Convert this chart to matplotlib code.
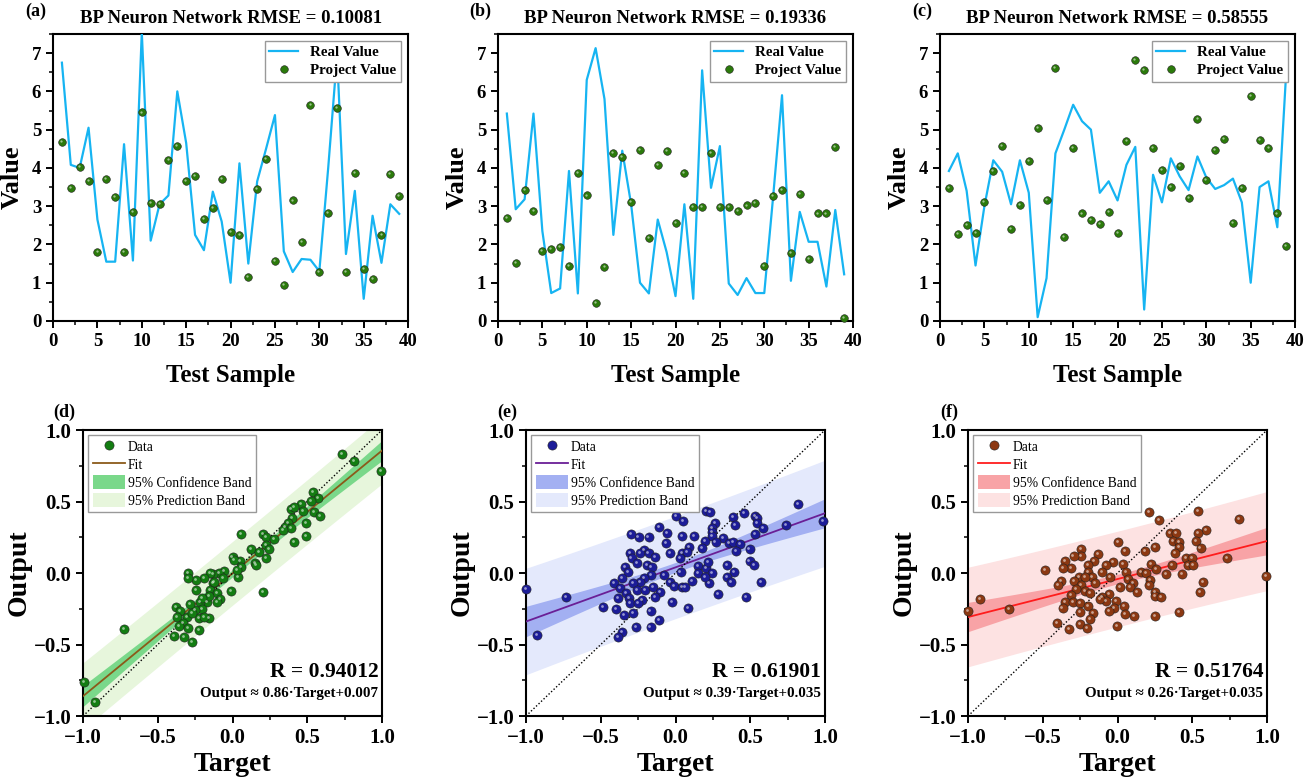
import numpy as np
import matplotlib
matplotlib.use('Agg')
import matplotlib.pyplot as plt
from matplotlib.lines import Line2D
from matplotlib.patches import Patch
from matplotlib.ticker import MultipleLocator
import matplotlib.transforms as mtrans

plt.rcParams['font.family'] = ['Liberation Serif', 'DejaVu Serif']
plt.rcParams['axes.unicode_minus'] = True

# ---- top row: real vs projected values ----
samples = list(range(1, 40))

real_a = [6.75, 4.08, 4.0, 5.05, 2.65, 1.55, 1.55, 4.62, 1.58, 7.55,
          2.1, 3.05, 3.28, 6.0, 4.65, 2.25, 1.85, 3.38, 2.6, 1.0,
          4.12, 1.5, 3.65, 4.5, 5.38, 1.82, 1.28, 1.62, 1.6, 1.3,
          4.0, 6.95, 1.75, 3.4, 0.58, 2.75, 1.52, 3.05, 2.8]
proj_a = [4.68, 3.48, 4.02, 3.65, 1.8, 3.72, 3.25, 1.81, 2.85, 5.45,
          3.08, 3.05, 4.2, 4.58, 3.65, 3.8, 2.67, 2.95, 3.7, 2.33,
          2.26, 1.15, 3.46, 4.23, 1.58, 0.95, 3.15, 2.06, 5.65, 1.27,
          2.82, 5.57, 1.28, 3.86, 1.37, 1.1, 2.24, 3.85, 3.26]

real_b = [5.42, 2.92, 3.18, 5.42, 2.35, 0.73, 0.85, 3.92, 0.72, 6.3,
          7.13, 5.8, 2.25, 4.45, 3.05, 1.0, 0.72, 2.65, 1.8, 0.65,
          3.05, 0.58, 6.55, 3.48, 4.57, 0.98, 0.68, 1.12, 0.73, 0.73,
          3.25, 5.9, 1.05, 2.85, 2.07, 2.07, 0.9, 2.9, 1.22]
proj_b = [2.69, 1.52, 3.43, 2.87, 1.82, 1.89, 1.93, 1.45, 3.86, 3.28,
          0.47, 1.42, 4.4, 4.29, 3.12, 4.47, 2.16, 4.07, 4.44, 2.56,
          3.88, 2.99, 2.99, 4.4, 2.97, 2.97, 2.88, 3.02, 3.08, 1.44,
          3.27, 3.42, 1.77, 3.33, 1.61, 2.81, 2.81, 4.55, 0.08]

real_c = [3.92, 4.38, 3.4, 1.45, 3.0, 4.2, 3.9, 3.05, 4.2, 3.35,
          0.1, 1.12, 4.38, 5.0, 5.65, 5.22, 5.0, 3.35, 3.65, 3.15,
          4.08, 4.55, 0.3, 3.82, 3.1, 4.25, 3.78, 3.42, 4.3, 3.75,
          3.45, 3.55, 3.72, 3.1, 1.0, 3.5, 3.65, 2.45, 6.5]
proj_c = [3.48, 2.28, 2.52, 2.31, 3.12, 3.91, 4.58, 2.4, 3.04, 4.19,
          5.05, 3.17, 6.62, 2.2, 4.52, 2.81, 2.63, 2.53, 2.85, 2.31,
          4.7, 6.82, 6.55, 4.52, 3.95, 3.51, 4.04, 3.21, 5.29, 3.68,
          4.48, 4.76, 2.56, 3.47, 5.87, 4.73, 4.52, 2.81, 1.97]

rmse_labels = ['0.10081', '0.19336', '0.58555']

# ---- bottom row: regression scatter ----
tgt_d = [0.732, 0.815, 0.995, 0.536, 0.572, 0.525, 0.46, 0.391, 0.414, 0.469,
         0.547, 0.587, 0.398, 0.369, 0.494, 0.353, 0.391, 0.494, 0.409, 0.057,
         0.202, 0.224, 0.28, 0.224, 0.246, 0.124, 0.175, 0.226, 0.152, 0.157,
         0.0, 0.052, 0.057, 0.034, 0.03, -0.01, 0.202, -0.055, -0.088, -0.133,
         -0.066, -0.133, -0.148, -0.193, -0.245, -0.30, -0.30, -0.245, -0.148, -0.104,
         -0.081, -0.104, -0.17, -0.215, -0.155, -0.204, -0.249, -0.282, -0.378, -0.349,
         -0.371, -0.304, -0.226, -0.159, -0.331, -0.36, -0.30, -0.222, -0.391, -0.324,
         -0.268, -0.728, -0.996, -0.92, -0.204, -0.27, -0.193, -0.126, 0.008, 0.34]
out_d = [0.83, 0.785, 0.713, 0.564, 0.522, 0.503, 0.485, 0.445, 0.46, 0.436,
         0.429, 0.40, 0.382, 0.347, 0.347, 0.319, 0.312, 0.261, 0.219, 0.273,
         0.273, 0.254, 0.238, 0.196, 0.165, 0.165, 0.145, 0.103, 0.072, 0.056,
         0.11, 0.082, 0.04, -0.026, 0.021, -0.124, -0.13, 0.014, -0.002, -0.007,
         -0.037, -0.068, 0.002, -0.037, -0.049, 0.002, -0.037, -0.119, -0.119, -0.142,
         -0.184, -0.2, -0.205, -0.2, -0.161, -0.254, -0.259, -0.217, -0.235, -0.266,
         -0.31, -0.31, -0.312, -0.312, -0.352, -0.371, -0.382, -0.399, -0.44, -0.45,
         -0.485, -0.389, -0.76, -0.904, -0.177, -0.28, -0.305, -0.065, 0.091, 0.30]

tgt_e = [-1.0, -0.732, -0.924, 0.82, 0.742, 0.989, 0.202, 0.231, 0.458, 0.532,
         0.547, 0.387, 0.265, 0.398, 0.547, 0.583, 0.247, 0.242, 0.532, 0.32,
         0.242, 0.124, 0.041, 0.001, 0.052, -0.108, -0.055, -0.18, -0.247, -0.298,
         0.197, 0.268, 0.357, 0.387, 0.43, 0.408, 0.495, 0.18, 0.093, -0.066,
         -0.036, 0.041, 0.075, 0.03, -0.21, -0.304, -0.237, -0.18, -0.137, -0.294,
         -0.26, -0.338, -0.316, -0.189, -0.16, -0.164, -0.21, -0.237, -0.282, -0.36,
         -0.411, -0.371, -0.333, -0.382, -0.309, -0.26, -0.204, -0.148, -0.104, -0.137,
         -0.225, -0.304, -0.249, -0.282, -0.344, -0.486, -0.4, -0.167, -0.264, -0.167,
         -0.36, -0.382, -0.108, -0.025, 0.081, -0.077, -0.036, -0.008, 0.034, 0.045,
         0.063, 0.108, 0.148, 0.152, 0.202, 0.22, 0.242, 0.226, 0.282, 0.197,
         0.347, 0.392, 0.347, 0.372, 0.495, 0.527, 0.571, 0.47]
out_e = [-0.11, -0.165, -0.431, 0.483, 0.338, 0.366, 0.436, 0.424, 0.422, 0.40,
         0.387, 0.394, 0.352, 0.336, 0.352, 0.317, 0.317, 0.289, 0.273, 0.247,
         0.261, 0.261, 0.261, 0.399, 0.366, 0.319, 0.277, 0.254, 0.254, 0.273,
         0.226, 0.214, 0.207, 0.214, 0.203, 0.156, 0.165, 0.172, 0.184, 0.207,
         0.138, 0.142, 0.149, 0.103, 0.161, 0.142, 0.138, 0.138, 0.11, 0.103,
         0.068, 0.04, 0.009, 0.056, 0.044, -0.014, -0.037, -0.061, -0.072, -0.037,
         -0.068, -0.107, -0.138, -0.177, -0.177, -0.119, -0.119, -0.096, -0.131, -0.166,
         -0.189, -0.212, -0.212, -0.277, -0.296, -0.24, -0.254, -0.263, -0.375, -0.38,
         -0.41, -0.45, -0.329, -0.205, -0.242, -0.014, -0.061, -0.091, 0.009, -0.1,
         -0.096, -0.056, 0.049, 0.002, 0.033, 0.075, -0.002, -0.072, -0.147, -0.026,
         0.056, 0.009, -0.026, -0.061, 0.086, 0.056, -0.065, -0.17]

tgt_f = [-1.0, -0.917, -0.726, -0.483, 0.211, 0.278, 0.539, 0.813, 0.996, 0.735,
         0.59, 0.539, 0.528, 0.555, 0.35, 0.394, 0.372, 0.409, 0.411, 0.387,
         0.46, 0.498, 0.471, 0.505, 0.367, 0.434, 0.572, 0.55, 0.411, 0.249,
         0.182, 0.226, 0.26, 0.322, 0.16, 0.193, 0.22, 0.208, 0.249, 0.249,
         0.289, 0.249, 0.003, 0.048, 0.037, 0.059, 0.07, 0.104, 0.086, 0.131,
         0.108, 0.019, 0.041, -0.003, -0.012, -0.023, -0.059, -0.048, -0.03, -0.075,
         -0.104, -0.057, -0.101, -0.075, -0.115, -0.13, -0.159, -0.197, -0.197, -0.17,
         -0.152, -0.242, -0.247, -0.294, -0.353, -0.312, -0.364, -0.375, -0.398, -0.258,
         -0.291, -0.22, -0.242, -0.276, -0.22, -0.186, -0.31, -0.353, -0.298, -0.249,
         -0.197, -0.368, -0.253, -0.164, -0.186, -0.253, -0.402, -0.324, -0.204, 0.048]
out_f = [-0.263, -0.184, -0.252, 0.021, 0.429, 0.371, 0.434, 0.375, -0.021, 0.103,
         0.301, 0.282, 0.226, 0.177, 0.277, 0.277, 0.226, 0.219, 0.184, 0.138,
         0.103, 0.103, 0.056, 0.056, 0.056, -0.009, -0.065, -0.135, -0.275, 0.184,
         0.154, 0.061, 0.028, -0.009, 0.009, 0.002, -0.049, -0.084, -0.131, -0.159,
         -0.17, -0.298, 0.219, 0.156, 0.061, 0.009, -0.044, -0.068, -0.1, -0.135,
         -0.298, -0.1, -0.231, -0.371, -0.193, -0.247, -0.266, -0.026, 0.079, 0.056,
         0.009, -0.147, -0.166, -0.193, -0.182, 0.133, 0.086, 0.056, 0.009, -0.026,
         -0.068, 0.165, 0.121, 0.119, 0.086, 0.033, 0.033, -0.054, -0.084, -0.026,
         -0.054, -0.03, -0.084, -0.114, -0.126, -0.138, -0.154, -0.2, -0.2, -0.207,
         -0.231, -0.247, -0.27, -0.277, -0.324, -0.357, -0.352, -0.392, -0.387, -0.287]

r_labels = ['0.94012', '0.61901', '0.51764']
eq_labels = ['0.86\u00b7Target+0.007', '0.39\u00b7Target+0.035', '0.26\u00b7Target+0.035']

T_VAL = 1.98

fig = plt.figure(figsize=(13.16, 7.81), dpi=100)

top_lefts = [0.0403, 0.3784, 0.7143]
bot_lefts = [0.0631, 0.3997, 0.7356]
top_letters = ['(a)', '(b)', '(c)']
bot_letters = ['(d)', '(e)', '(f)']

line_col = '#16b4f2'
pt_col = '#2b7a0b'


def sphere(ax, x, y, color, size, zorder=4):
    # shaded ball look: dark ring, body, small highlight
    ax.plot(x, y, 'o', ls='none', ms=size, mfc=color, mec='#202020', mew=0.4,
            zorder=zorder, clip_on=False)
    off = mtrans.offset_copy(ax.transData, fig=fig, x=-size * 0.12, y=size * 0.12, units='points')
    ax.plot(x, y, 'o', ls='none', ms=size * 0.3, mfc='white', mec='none', alpha=0.55,
            transform=off, zorder=zorder + 0.1, clip_on=False)


def style_axes(ax, labsize):
    for s in ax.spines.values():
        s.set_linewidth(1.5)
    ax.tick_params(which='major', direction='out', length=5, width=1.4, labelsize=labsize,
                   top=False, right=False)
    ax.tick_params(which='minor', direction='out', length=3, width=1.1, top=False, right=False)
    for t in ax.get_xticklabels() + ax.get_yticklabels():
        t.set_fontweight('bold')


top_sets = [(real_a, proj_a), (real_b, proj_b), (real_c, proj_c)]
for i, (real, proj) in enumerate(top_sets):
    ax = fig.add_axes([top_lefts[i], 0.589, 0.2698, 0.3675])
    ax.plot(samples, real, color=line_col, lw=1.6, zorder=3)
    sphere(ax, samples, proj, pt_col, 5.5)
    ax.set_xlim(0, 40)
    ax.set_ylim(0, 7.5)
    ax.xaxis.set_major_locator(MultipleLocator(5))
    ax.xaxis.set_minor_locator(MultipleLocator(2.5))
    ax.yaxis.set_major_locator(MultipleLocator(1))
    ax.yaxis.set_minor_locator(MultipleLocator(0.5))
    style_axes(ax, 13.5)
    ax.set_xlabel('Test Sample', fontsize=18, fontweight='bold', labelpad=10)
    ax.set_ylabel('Value', fontsize=19, fontweight='bold', labelpad=6)
    ax.set_title('BP Neuron Network RMSE = ' + rmse_labels[i], fontsize=13.5,
                 fontweight='bold', pad=8)
    ax.text(-0.05, 1.05, top_letters[i], transform=ax.transAxes, fontsize=13,
            fontweight='bold', ha='center', va='bottom')
    h = [Line2D([], [], color=line_col, lw=1.6),
         Line2D([], [], ls='none', marker='o', ms=5.5, mfc=pt_col, mec='#202020', mew=0.4)]
    ax.legend(h, ['Real Value', 'Project Value'], loc='upper right', fancybox=False,
              edgecolor='#999999', framealpha=1, prop={'weight': 'bold', 'size': 10.8},
              borderaxespad=0.5, handlelength=1.9, labelspacing=0.3, borderpad=0.3,
              handletextpad=0.8)

bot_sets = [(tgt_d, out_d), (tgt_e, out_e), (tgt_f, out_f)]
dot_cols = ['#137d12', '#1c1c98', '#8c3812']
fit_cols = ['#8b5a1a', '#6a1f96', '#ff1c1c']
conf_cols = ['#7ad88a', '#a3b0f2', '#f8a3a6']
pred_cols = ['#e7f6dc', '#e4e9fc', '#fde2e2']
tick_vals = [-1, -0.5, 0, 0.5, 1]
tick_text = ['\u22121.0', '\u22120.5', '0.0', '0.5', '1.0']

for i, (tx, oy) in enumerate(bot_sets):
    ax = fig.add_axes([bot_lefts[i], 0.0832, 0.2272, 0.3662])
    x = np.array(tx)
    y = np.array(oy)
    n = len(x)
    k, b = np.polyfit(x, y, 1)
    res = y - (k * x + b)
    s = np.sqrt(np.sum(res ** 2) / (n - 2))
    xm = x.mean()
    sxx = np.sum((x - xm) ** 2)
    xs = np.linspace(-1, 1, 200)
    ys = k * xs + b
    ci = T_VAL * s * np.sqrt(1 / n + (xs - xm) ** 2 / sxx)
    pi = T_VAL * s * np.sqrt(1 + 1 / n + (xs - xm) ** 2 / sxx)
    ax.fill_between(xs, ys - pi, ys + pi, color=pred_cols[i], lw=0, zorder=1)
    ax.fill_between(xs, ys - ci, ys + ci, color=conf_cols[i], lw=0, zorder=2)
    ax.plot(xs, ys, color=fit_cols[i], lw=1.3, zorder=3)
    ax.plot([-1, 1], [-1, 1], ls=(0, (1, 1.5)), color='black', lw=1.0, zorder=3)
    sphere(ax, x, y, dot_cols[i], 6.6)
    ax.set_xlim(-1, 1)
    ax.set_ylim(-1, 1)
    ax.xaxis.set_minor_locator(MultipleLocator(0.25))
    ax.yaxis.set_minor_locator(MultipleLocator(0.25))
    ax.set_xticks(tick_vals)
    ax.set_xticklabels(tick_text)
    ax.set_yticks(tick_vals)
    ax.set_yticklabels(tick_text)
    style_axes(ax, 15)
    ax.set_xlabel('Target', fontsize=20, fontweight='bold', labelpad=3)
    ax.set_ylabel('Output', fontsize=20, fontweight='bold', labelpad=1)
    ax.text(-0.063, 1.03, bot_letters[i], transform=ax.transAxes, fontsize=13,
            fontweight='bold', ha='center', va='bottom')
    ax.text(0.987, 0.154, 'R = ' + r_labels[i], transform=ax.transAxes, fontsize=15.5,
            fontweight='bold', ha='right', va='center', zorder=6)
    ax.text(0.987, 0.08, 'Output \u2248 ' + eq_labels[i], transform=ax.transAxes,
            fontsize=10.8, fontweight='bold', ha='right', va='center', zorder=6)
    h = [Line2D([], [], ls='none', marker='o', ms=6.6, mfc=dot_cols[i], mec='#202020', mew=0.4),
         Line2D([], [], color=fit_cols[i], lw=1.3),
         Patch(facecolor=conf_cols[i], edgecolor='none'),
         Patch(facecolor=pred_cols[i], edgecolor='none')]
    leg = ax.legend(h, ['Data', 'Fit', '95% Confidence Band', '95% Prediction Band'],
                    loc='upper left', fancybox=False, edgecolor='#999999', framealpha=1,
                    fontsize=9.8, borderaxespad=0.4, handlelength=2.4, labelspacing=0.25,
                    borderpad=0.3, handletextpad=0.2, handleheight=1.2)
    leg.set_zorder(7)

fig.savefig('out.png', dpi=100)
